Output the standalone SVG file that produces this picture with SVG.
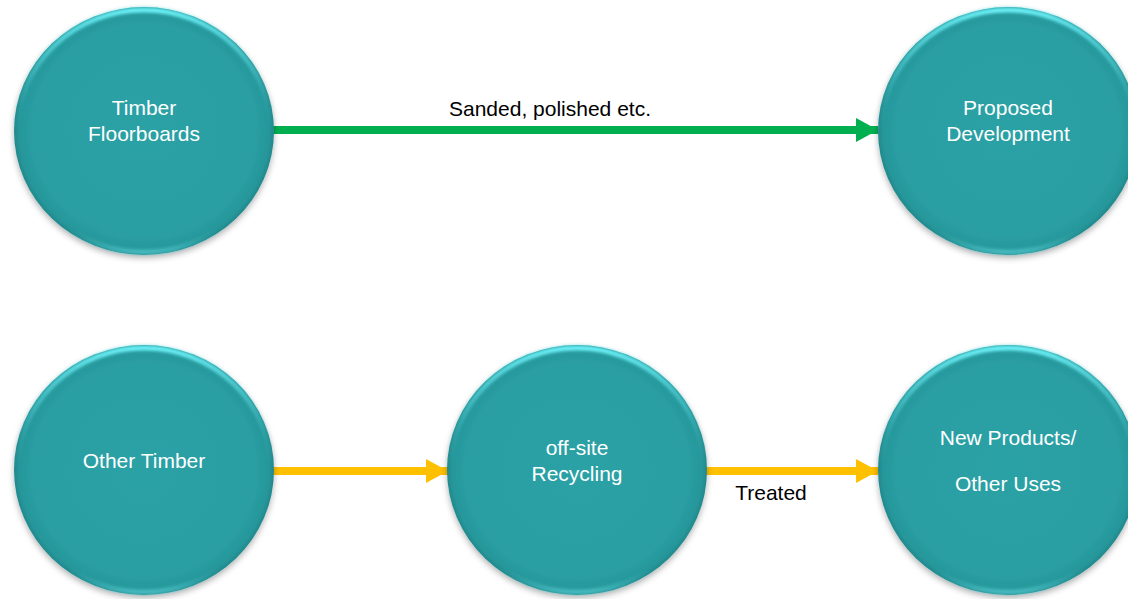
<svg xmlns="http://www.w3.org/2000/svg" width="1128" height="599" viewBox="0 0 1128 599">
  <defs>
    <radialGradient id="ballBody" cx="0.5" cy="0.5" r="0.5">
      <stop offset="0" stop-color="#2aa1a5"/>
      <stop offset="0.85" stop-color="#2a9fa3"/>
      <stop offset="0.96" stop-color="#26979b"/>
      <stop offset="1" stop-color="#22898d"/>
    </radialGradient>
    <!-- bevel light: bright along the upper edge, faint at the lower edge -->
    <linearGradient id="ballRim" x1="0" y1="0" x2="0" y2="1">
      <stop offset="0" stop-color="#6cf2f8" stop-opacity="1"/>
      <stop offset="0.25" stop-color="#55d8de" stop-opacity="0.5"/>
      <stop offset="0.5" stop-color="#2a9fa3" stop-opacity="0"/>
      <stop offset="0.9" stop-color="#2a9fa3" stop-opacity="0"/>
      <stop offset="1" stop-color="#55cdd2" stop-opacity="0.7"/>
    </linearGradient>
    <filter id="ballShadow" x="-20%" y="-20%" width="140%" height="140%">
      <feGaussianBlur in="SourceAlpha" stdDeviation="3"/>
      <feOffset dx="0" dy="3" result="blur"/>
      <feFlood flood-color="#000" flood-opacity="0.3"/>
      <feComposite in2="blur" operator="in"/>
      <feMerge>
        <feMergeNode/>
        <feMergeNode in="SourceGraphic"/>
      </feMerge>
    </filter>
    <filter id="soft" x="-10%" y="-10%" width="120%" height="120%">
      <feGaussianBlur stdDeviation="1.5"/>
    </filter>
    <marker id="headGreen" markerUnits="userSpaceOnUse" markerWidth="24" markerHeight="24" refX="22" refY="12" orient="auto">
      <path d="M0,0 L22,12 L0,24 Z" fill="#00b050"/>
    </marker>
    <marker id="headAmber" markerUnits="userSpaceOnUse" markerWidth="24" markerHeight="24" refX="22" refY="12" orient="auto">
      <path d="M0,0 L22,12 L0,24 Z" fill="#ffc000"/>
    </marker>
  </defs>
  <style>
    .ball { fill: url(#ballBody); filter: url(#ballShadow); }
    .rim { fill: none; stroke: url(#ballRim); stroke-width: 5; filter: url(#soft); }
    .label { font-family: "Liberation Sans", Arial, sans-serif; font-size: 21px; fill: #ffffff; text-anchor: middle; }
    .edge-label { font-family: "Liberation Sans", Arial, sans-serif; font-size: 21px; fill: #000000; text-anchor: middle; }
    .flow-green { stroke: #00b050; stroke-width: 8; fill: none; }
    .flow-amber { stroke: #ffc000; stroke-width: 8; fill: none; }
  </style>

  <rect width="1128" height="599" fill="#ffffff"/>

  <!-- connectors -->
  <g id="connectors">
    <line class="flow-green" x1="272" y1="130" x2="878" y2="130" marker-end="url(#headGreen)"/>
    <text class="edge-label" x="550" y="116">Sanded, polished etc.</text>
    <line class="flow-amber" x1="272" y1="471" x2="448" y2="471" marker-end="url(#headAmber)"/>
    <line class="flow-amber" x1="705" y1="471" x2="878" y2="471" marker-end="url(#headAmber)"/>
    <text class="edge-label" x="771" y="500">Treated</text>
  </g>

  <!-- nodes -->
  <g id="timber-floorboards">
    <ellipse class="ball" cx="144" cy="131" rx="130" ry="124"/>
    <ellipse class="rim" cx="144" cy="131" rx="127" ry="121"/>
    <text class="label" x="144" y="115">Timber</text>
    <text class="label" x="144" y="141">Floorboards</text>
  </g>

  <g id="proposed-development">
    <ellipse class="ball" cx="1008" cy="131" rx="130" ry="124"/>
    <ellipse class="rim" cx="1008" cy="131" rx="127" ry="121"/>
    <text class="label" x="1008" y="115">Proposed</text>
    <text class="label" x="1008" y="141">Development</text>
  </g>

  <g id="other-timber">
    <ellipse class="ball" cx="144" cy="470" rx="130" ry="125"/>
    <ellipse class="rim" cx="144" cy="470" rx="127" ry="122"/>
    <text class="label" x="144" y="468">Other Timber</text>
  </g>

  <g id="offsite-recycling">
    <ellipse class="ball" cx="577" cy="470" rx="130" ry="125"/>
    <ellipse class="rim" cx="577" cy="470" rx="127" ry="122"/>
    <text class="label" x="577" y="455">off-site</text>
    <text class="label" x="577" y="481">Recycling</text>
  </g>

  <g id="new-products">
    <ellipse class="ball" cx="1008" cy="470" rx="130" ry="125"/>
    <ellipse class="rim" cx="1008" cy="470" rx="127" ry="122"/>
    <text class="label" x="1008" y="445">New Products/</text>
    <text class="label" x="1008" y="491">Other Uses</text>
  </g>
</svg>
